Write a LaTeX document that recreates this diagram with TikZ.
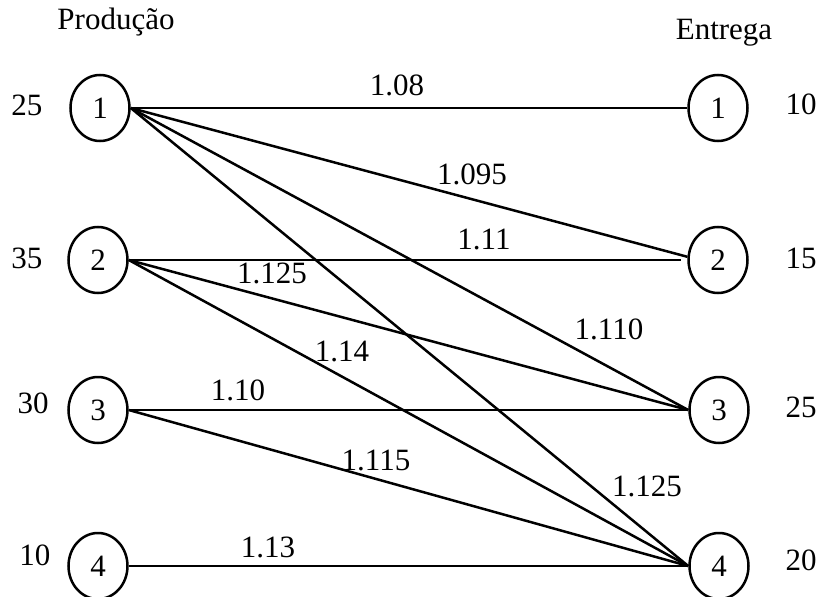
\documentclass[tikz,border=0pt]{standalone}
\usepackage{fontspec}
\setmainfont{Liberation Serif}
\usetikzlibrary{shapes.geometric}
\begin{document}
\begin{tikzpicture}[x=1pt,y=-1pt,
  nd/.style={ellipse,draw,line width=2.5pt,minimum width=59pt,minimum height=66pt,inner sep=0pt,font=\fontsize{31}{36}\selectfont},
  txt/.style={font=\fontsize{31}{36}\selectfont,inner sep=0pt},
  edge/.style={line width=2.5pt}]
\useasboundingbox (0,0) rectangle (823,597);
% left nodes
\node[nd] (L1) at (100,108) {1};
\node[nd] (L2) at (98,260) {2};
\node[nd] (L3) at (98,410) {3};
\node[nd] (L4) at (98,566) {4};
% right nodes
\node[nd] (R1) at (718,108) {1};
\node[nd] (R2) at (718,260) {2};
\node[nd] (R3) at (719,410) {3};
\node[nd] (R4) at (719,566) {4};
% headings
\node[txt] (hp) at (116,22) {Produção};
\node[txt] (he) at (724,33) {Entrega};
% supplies
\node[txt] (s1) at (27,105) {25};
\node[txt] (s2) at (27,258) {35};
\node[txt] (s3) at (33,403) {30};
\node[txt] (s4) at (35,555) {10};
% demands
\node[txt] (d1) at (801,104) {10};
\node[txt] (d2) at (801,258) {15};
\node[txt] (d3) at (801,407) {25};
\node[txt] (d4) at (801,560) {20};
% edges
\draw[edge] (L1.east) -- (R1.west);
\draw[edge] (L1.east) -- (R2.174);
\draw[edge] (L1.east) -- (R3.west);
\draw[edge] (L1.east) -- (R4.west);
\draw[edge,shorten >=6pt] (L2.east) -- (R2.west);
\draw[edge] (L2.east) -- (R3.west);
\draw[edge] (L2.east) -- (R4.west);
\draw[edge] (L3.east) -- (R3.west);
\draw[edge] (L3.east) -- (R4.west);
\draw[edge] (L4.east) -- (R4.west);
% edge labels
\node[txt] (c11) at (397,85) {1.08};
\node[txt] (c12) at (472,174) {1.095};
\node[txt] (c22) at (484,239) {1.11};
\node[txt] (c23) at (272,273) {1.125};
\node[txt] (c24) at (342,351) {1.14};
\node[txt] (c13) at (609,329) {1.110};
\node[txt] (c33) at (238,390) {1.10};
\node[txt] (c34) at (376,460) {1.115};
\node[txt] (c14) at (647,486) {1.125};
\node[txt] (c44) at (268,547) {1.13};
\end{tikzpicture}
\end{document}
